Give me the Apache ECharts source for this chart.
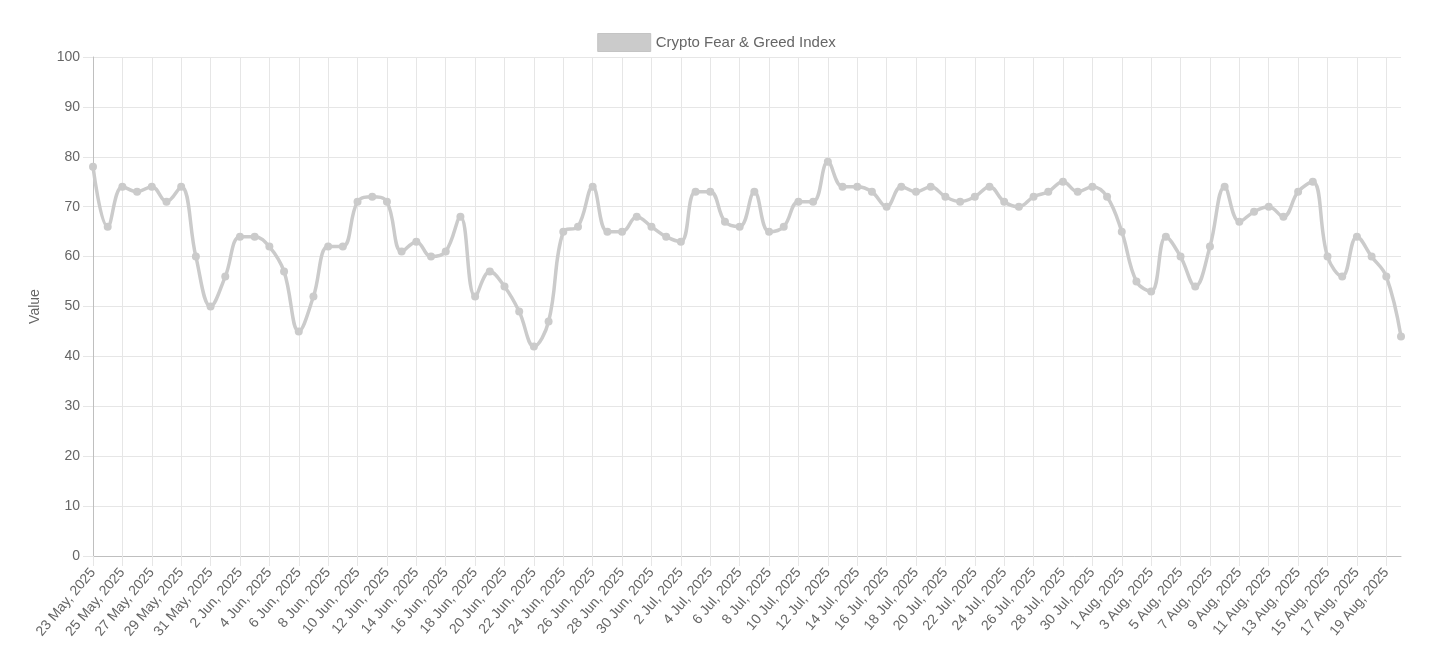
<!DOCTYPE html>
<html>
<head>
<meta charset="utf-8">
<script src="https://cdn.jsdelivr.net/npm/echarts@6/dist/echarts.min.js"></script>
<style>
html,body{margin:0;padding:0;background:#fff;}
#chart{width:1433px;height:651px;}
</style>
</head>
<body>
<div id="chart"></div>
<script>
var seriesName = 'Crypto Fear & Greed Index';
var yAxisName = 'Value';
var dates = [
  '23 May, 2025','24 May, 2025','25 May, 2025','26 May, 2025','27 May, 2025','28 May, 2025','29 May, 2025','30 May, 2025','31 May, 2025',
  '1 Jun, 2025','2 Jun, 2025','3 Jun, 2025','4 Jun, 2025','5 Jun, 2025','6 Jun, 2025','7 Jun, 2025','8 Jun, 2025','9 Jun, 2025','10 Jun, 2025',
  '11 Jun, 2025','12 Jun, 2025','13 Jun, 2025','14 Jun, 2025','15 Jun, 2025','16 Jun, 2025','17 Jun, 2025','18 Jun, 2025','19 Jun, 2025','20 Jun, 2025',
  '21 Jun, 2025','22 Jun, 2025','23 Jun, 2025','24 Jun, 2025','25 Jun, 2025','26 Jun, 2025','27 Jun, 2025','28 Jun, 2025','29 Jun, 2025','30 Jun, 2025',
  '1 Jul, 2025','2 Jul, 2025','3 Jul, 2025','4 Jul, 2025','5 Jul, 2025','6 Jul, 2025','7 Jul, 2025','8 Jul, 2025','9 Jul, 2025','10 Jul, 2025',
  '11 Jul, 2025','12 Jul, 2025','13 Jul, 2025','14 Jul, 2025','15 Jul, 2025','16 Jul, 2025','17 Jul, 2025','18 Jul, 2025','19 Jul, 2025','20 Jul, 2025',
  '21 Jul, 2025','22 Jul, 2025','23 Jul, 2025','24 Jul, 2025','25 Jul, 2025','26 Jul, 2025','27 Jul, 2025','28 Jul, 2025','29 Jul, 2025','30 Jul, 2025','31 Jul, 2025',
  '1 Aug, 2025','2 Aug, 2025','3 Aug, 2025','4 Aug, 2025','5 Aug, 2025','6 Aug, 2025','7 Aug, 2025','8 Aug, 2025','9 Aug, 2025','10 Aug, 2025',
  '11 Aug, 2025','12 Aug, 2025','13 Aug, 2025','14 Aug, 2025','15 Aug, 2025','16 Aug, 2025','17 Aug, 2025','18 Aug, 2025','19 Aug, 2025','20 Aug, 2025'
];
var values = [
  78,66,74,73,74,71,74,60,50,
  56,64,64,62,57,45,52,62,62,71,
  72,71,61,63,60,61,68,52,57,54,
  49,42,47,65,66,74,65,65,68,66,
  64,63,73,73,67,66,73,65,66,71,
  71,79,74,74,73,70,74,73,74,72,
  71,72,74,71,70,72,73,75,73,74,72,
  65,55,53,64,60,54,62,74,67,69,
  70,68,73,75,60,56,64,60,56,44
];
var yTicks = {min: 0, max: 100, step: 10};

var FONT = '"Liberation Sans", Arial, Helvetica, sans-serif';
var lineColor = '#cbcbcb';
var gridColor = '#e6e6e6';

var chart = echarts.init(document.getElementById('chart'), null, {renderer: 'canvas'});
chart.setOption({
  animation: false,
  textStyle: {fontFamily: FONT},
  legend: {
    data: [seriesName],
    top: 28,
    left: 'center',
    icon: 'rect',
    itemWidth: 53,
    itemHeight: 18,
    itemGap: 10,
    textStyle: {color: '#666', fontSize: 15, fontFamily: FONT},
    itemStyle: {color: lineColor, borderColor: '#c4c4c4', borderWidth: 1}
  },
  grid: {left: 93, right: 32, top: 57, bottom: 95, containLabel: false},
  xAxis: {
    type: 'category',
    data: dates,
    boundaryGap: false,
    axisLine: {show: true, lineStyle: {color: '#bfbfbf', width: 1}},
    axisTick: {show: true, interval: 1, length: 10, lineStyle: {color: gridColor}},
    axisLabel: {interval: 1, rotate: 50, fontSize: 14, color: '#666', margin: 14, fontFamily: FONT},
    splitLine: {show: true, interval: 1, lineStyle: {color: gridColor, width: 1}}
  },
  yAxis: {
    type: 'value',
    min: yTicks.min,
    max: yTicks.max,
    interval: yTicks.step,
    name: yAxisName,
    nameLocation: 'middle',
    nameGap: 51,
    nameTextStyle: {color: '#666', fontSize: 14, fontFamily: FONT},
    axisLine: {show: true, lineStyle: {color: '#bfbfbf', width: 1}},
    axisTick: {show: true, length: 10, lineStyle: {color: gridColor}},
    axisLabel: {fontSize: 14, color: '#666', margin: 13, fontFamily: FONT},
    splitLine: {show: true, lineStyle: {color: gridColor, width: 1}}
  },
  series: [{
    name: seriesName,
    type: 'line',
    data: values,
    smooth: 0.4,
    symbol: 'circle',
    symbolSize: 8,
    showSymbol: true,
    lineStyle: {color: lineColor, width: 3.5},
    itemStyle: {color: lineColor}
  }]
});
</script>
</body>
</html>
